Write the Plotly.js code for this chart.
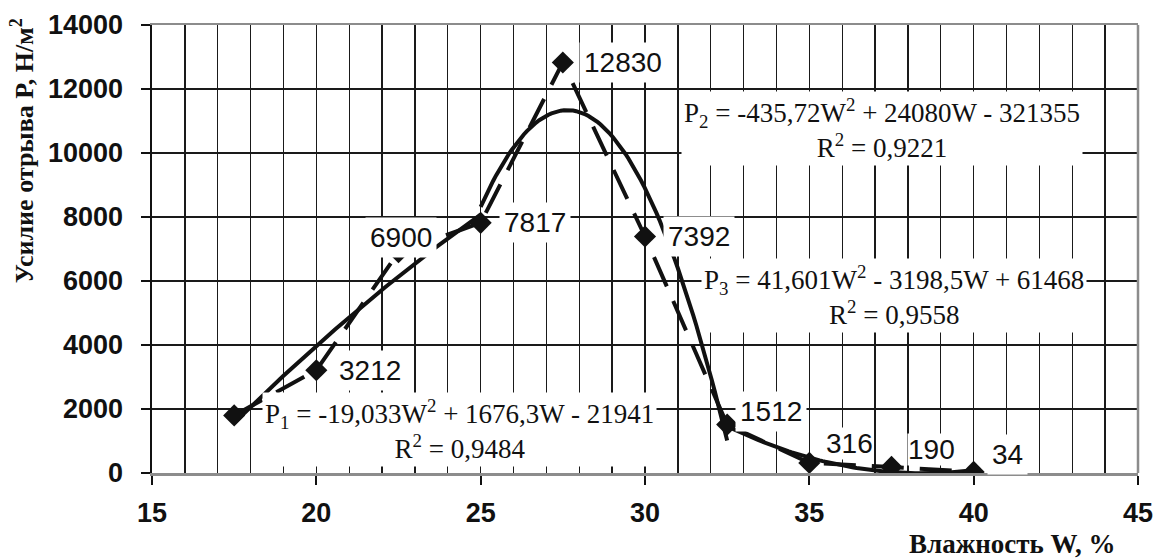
<!DOCTYPE html>
<html>
<head>
<meta charset="utf-8">
<script src="https://cdn.plot.ly/plotly-3.0.1.min.js"></script>
<style>html,body{margin:0;padding:0;background:#fff;}#chart{width:1157px;height:560px;}</style>
</head>
<body>
<div id="chart"></div>
<script>
// ---- data ----
const moisture = [17.5, 20, 22.5, 25, 27.5, 30, 32.5, 35, 37.5, 40];
const force    = [1800, 3212, 6900, 7817, 12830, 7392, 1512, 316, 190, 34];
const pointLabels = ["", "3212", "6900", "7817", "12830", "7392", "1512", "316", "190", "34"];

// trend equations shown on the chart: coefficients [a, b, c] of aW^2 + bW + c, and W-range
const fit1 = [-19.033, 1676.3, -21941];
const fit2 = [-435.72, 24080, -321355];
const fit3 = [41.601, -3198.5, 61468];
const fit1Range = [17.5, 25];
const fit2Range = [25, 32.5];
const fit3Range = [32.5, 40];
const fitTexts = [
  "P<sub>1</sub> = -19,033W<sup>2</sup> + 1676,3W - 21941<br>R<sup>2</sup> = 0,9484",
  "P<sub>2</sub> = -435,72W<sup>2</sup> + 24080W - 321355<br>R<sup>2</sup> = 0,9221",
  "P<sub>3</sub> = 41,601W<sup>2</sup> - 3198,5W + 61468<br>R<sup>2</sup> = 0,9558"
];
const xTitle = "Влажность W, %";
const yTitle = "Усилие отрыва P, Н/м<sup>2</sup>";

// ---- trend curves sampled from the displayed equations ----
function trend(coef, range) {
  const xs = [], ys = [];
  const n = 80;
  for (let i = 0; i <= n; i++) {
    const w = range[0] + (range[1] - range[0]) * i / n;
    xs.push(w);
    ys.push(coef[0] * w * w + coef[1] * w + coef[2]);
  }
  return {xs, ys};
}
const t1 = trend(fit1, fit1Range), t2 = trend(fit2, fit2Range), t3 = trend(fit3, fit3Range);

const lineStyle = {color: '#111', width: 4};
const traces = [
  {x: t1.xs, y: t1.ys, mode: 'lines', line: lineStyle, hoverinfo: 'skip'},
  {x: t2.xs, y: t2.ys, mode: 'lines', line: lineStyle, hoverinfo: 'skip'},
  {x: t3.xs, y: t3.ys, mode: 'lines', line: lineStyle, hoverinfo: 'skip'},
  {x: moisture, y: force, mode: 'lines+markers',
   line: {color: '#111', width: 4, dash: '32px,16px'},
   marker: {symbol: 'diamond', size: 17, color: '#111'}}
];

// label offsets (px) relative to each point, and box padding
const labelShift = [[0,0],[18,0],[-34,15],[18,0],[16,0],[18,0],[8,13],[16,19],[15,17],[13,17]];
const labelPad   = [4, 4, 4, 4, 4, 4, 4, 0, 0, 4];

const annotations = [];
moisture.forEach((w, i) => {
  if (!pointLabels[i]) return;
  annotations.push({
    x: w, y: force[i], xref: 'x', yref: 'y', text: pointLabels[i],
    showarrow: false, xanchor: 'left', yanchor: 'middle',
    xshift: labelShift[i][0], yshift: labelShift[i][1],
    font: {family: 'Liberation Sans, Arial, sans-serif', size: 28, color: '#111'},
    bgcolor: '#ffffff', borderpad: labelPad[i]
  });
});
const fitPos = [[24.37, 1344], [37.21, 10781], [37.57, 5562]];
fitTexts.forEach((t, i) => {
  annotations.push({
    x: fitPos[i][0], y: fitPos[i][1], xref: 'x', yref: 'y', text: t,
    showarrow: false, xanchor: 'center', yanchor: 'middle', align: 'center',
    font: {family: 'Liberation Serif, Times New Roman, serif', size: 27, color: '#111'},
    bgcolor: '#ffffff', borderpad: 2
  });
});
annotations.push({
  x: 0.873, y: -0.158, xref: 'paper', yref: 'paper', text: '<b>' + xTitle + '</b>',
  showarrow: false, xanchor: 'center', yanchor: 'middle',
  font: {family: 'Liberation Serif, Times New Roman, serif', size: 27, color: '#111'}
});
annotations.push({
  x: -0.131, y: 0.72, xref: 'paper', yref: 'paper', text: '<b>' + yTitle + '</b>',
  showarrow: false, xanchor: 'center', yanchor: 'middle', textangle: -90,
  font: {family: 'Liberation Serif, Times New Roman, serif', size: 26, color: '#111'}
});

const tickFont = {family: 'Liberation Sans, Arial, sans-serif', size: 27, color: '#111', weight: 'bold'};
const layout = {
  width: 1157, height: 560,
  margin: {l: 152, r: 19, t: 25, b: 87},
  paper_bgcolor: '#fff', plot_bgcolor: '#fff',
  showlegend: false,
  xaxis: {
    range: [15, 45], dtick: 5, tick0: 15,
    showgrid: true, gridcolor: '#1a1a1a', gridwidth: 1.3,
    minor: {dtick: 1, showgrid: true, gridcolor: '#1a1a1a', gridwidth: 1.3, ticks: ''},
    zeroline: false,
    showline: true, linecolor: '#8c8c8c', linewidth: 2.5, mirror: true,
    ticks: 'outside', ticklen: 9, tickwidth: 2, tickcolor: '#111',
    ticklabelstandoff: 5,
    tickfont: tickFont
  },
  yaxis: {
    range: [0, 14000], dtick: 2000, tickformat: 'd',
    showgrid: true, gridcolor: '#1a1a1a', gridwidth: 1.3,
    zeroline: false,
    showline: true, linecolor: '#111', linewidth: 2.5,
    ticks: 'outside', ticklen: 9, tickwidth: 2, tickcolor: '#111',
    ticklabelstandoff: 12,
    tickfont: tickFont
  },
  shapes: [
    {type: 'line', xref: 'paper', yref: 'paper', x0: 1, x1: 1, y0: 0, y1: 1,
     line: {color: '#8c8c8c', width: 2.5}}
  ],
  annotations: annotations
};

Plotly.newPlot('chart', traces, layout, {displayModeBar: false, staticPlot: true});
</script>
</body>
</html>
